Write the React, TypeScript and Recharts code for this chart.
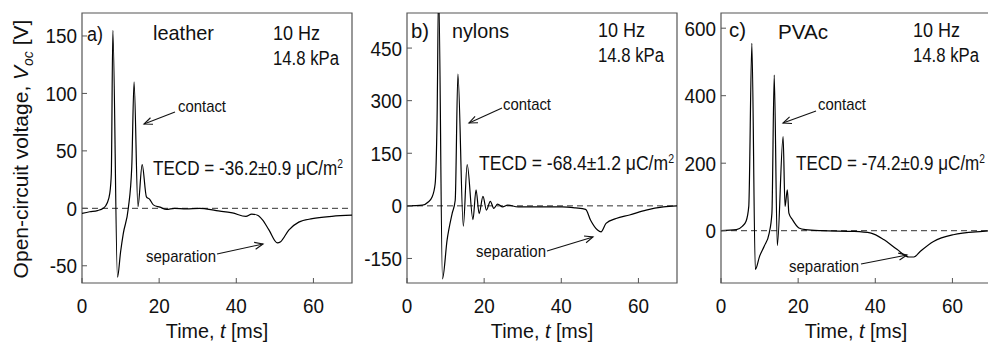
import React from "react";
import { LineChart, Line, XAxis, YAxis, ReferenceLine, ReferenceArea } from "recharts";

// time axis (ms), shared by the three panels
const timeTicks = [0, 20, 40, 60];

// a) leather
const leatherT = [0, 2, 4, 5.5, 6.5, 7.2, 7.6, 8.0, 9.2, 10.0, 10.7, 12.0, 12.9, 13.5, 14.5, 15.6, 16.7, 17.5, 18.5, 20.2, 21.9, 24, 27, 30.5, 34.8, 39, 42.5, 44, 45.5, 46.8, 48.5, 50.6, 51.5, 53.6, 56.2, 59.7, 64.8, 70];
const leatherV = [-4.4, -3, -2, 0, 4.4, 13, 30, 155, -60, -38, -22, 0, 36, 110, 1.5, 38, 10, 8, 3, 1, -1, 0, -0.5, 0, -2, -4, -7, -5, -6, -10, -19, -30, -29, -19, -12, -9, -7, -6];
const leatherTicks = [-50, 0, 50, 100, 150];

// b) nylons
const nylonT = [0, 4, 5.5, 6.5, 7.3, 7.8, 8.2, 9.2, 10.4, 11.7, 12.5, 13.2, 14.6, 15.6, 17.1, 17.9, 18.7, 19.7, 20.6, 21.6, 22.5, 23.5, 24.8, 26.1, 28.8, 34, 40.2, 43.7, 46.3, 47.6, 49.4, 50.3, 51.6, 54.2, 57.7, 62, 66.5, 70];
const nylonV = [0, 2, 11, 25, 63, 250, 620, -208, -97, -22, 16, 376, -58, 118, -39, 46, -22, 27, -12, 13, -7, 5, -3, 2, -3, -3, -3, -6, -10, -41, -69, -74, -50, -36, -26, -12, -3, 0];
const nylonTicks = [-150, 0, 150, 300, 450];

// c) PVAc
const pvacT = [0, 4, 5.5, 6.5, 7.2, 8.0, 8.9, 10, 11.2, 12.5, 13.2, 13.8, 14.6, 16.1, 16.6, 17.2, 17.6, 18.5, 20.2, 21.9, 26, 34.6, 38.9, 42.3, 45.7, 48.7, 50, 51.7, 55.1, 60.2, 67.8, 70];
const pvacV = [0, 3, 13, 28, 72, 555, -115, -76, -46, -7, 52, 461, -44, 279, 72, 121, 52, 33, 8, 3, 0, -2, -7, -27, -56, -78, -78, -61, -32, -12, -2, 0];
const pvacTicks = [0, 200, 400, 600];

const FONT = "'Liberation Sans', Arial, sans-serif";
const AXW = 60;
const PLOT_W = 270;
const TOP = 13;
const BOTTOM = 283;
const FRAME = "#555";

const panels = [
  { id: "a", left: 82, t: leatherT, v: leatherV, domain: [-65, 170], ticks: leatherTicks },
  { id: "b", left: 407, t: nylonT, v: nylonV, domain: [-220, 550], ticks: nylonTicks },
  { id: "c", left: 721, t: pvacT, v: pvacV, domain: [-155, 645], ticks: pvacTicks },
];

function XTick(props: any) {
  const { x, payload } = props;
  return (
    <g>
      <line x1={x} x2={x} y1={BOTTOM} y2={BOTTOM - 5} stroke={FRAME} />
      <text
        transform={`translate(${x},312.5) scale(0.9,1)`}
        textAnchor="middle"
        fontSize={21}
        fontFamily={FONT}
        fill="#111"
      >
        {payload.value}
      </text>
    </g>
  );
}

function YTick(props: any) {
  const { y, payload } = props;
  return (
    <g>
      <line x1={AXW} x2={AXW + 5} y1={y} y2={y} stroke={FRAME} />
      <text
        transform={`translate(${AXW - 5},${y + 7.5}) scale(0.9,1)`}
        textAnchor="end"
        fontSize={21}
        fontFamily={FONT}
        fill="#111"
      >
        {payload.value}
      </text>
    </g>
  );
}

function Panel({ left, t, v, domain, ticks }: any) {
  const data = t.map((x: number, i: number) => ({ t: x, v: v[i] }));
  return (
    <div style={{ position: "absolute", left: left - AXW, top: 0 }}>
      <LineChart
        width={AXW + PLOT_W + 2}
        height={344}
        data={data}
        margin={{ top: TOP, right: 2, bottom: 31, left: 0 }}
      >
        <XAxis
          dataKey="t"
          type="number"
          domain={[0, 70]}
          ticks={timeTicks}
          height={30}
          axisLine={false}
          tickLine={false}
          tick={(p: any) => <XTick {...p} />}
          allowDataOverflow
        />
        <YAxis
          type="number"
          domain={domain}
          ticks={ticks}
          width={AXW}
          axisLine={false}
          tickLine={false}
          tick={(p: any) => <YTick {...p} />}
          allowDataOverflow
        />
        <ReferenceLine y={0} stroke="#333" strokeDasharray="6 4" />
        <Line
          dataKey="v"
          type="monotone"
          stroke="#000"
          strokeWidth={1.2}
          dot={false}
          isAnimationActive={false}
        />
        <ReferenceArea
          x1={0}
          x2={70}
          y1={domain[0]}
          y2={domain[1]}
          fill="none"
          stroke={FRAME}
          strokeWidth={1.2}
        />
      </LineChart>
    </div>
  );
}

function Arrow({ x1, y1, x2, y2 }: any) {
  const a = Math.atan2(y2 - y1, x2 - x1);
  const L = 9;
  const w = 0.4;
  const p1 = [x2 - L * Math.cos(a - w), y2 - L * Math.sin(a - w)];
  const p2 = [x2 - L * Math.cos(a + w), y2 - L * Math.sin(a + w)];
  return (
    <g stroke="#111" strokeWidth={1.1} fill="none">
      <line x1={x1} y1={y1} x2={x2} y2={y2} />
      <polyline points={`${p1[0]},${p1[1]} ${x2},${y2} ${p2[0]},${p2[1]}`} />
    </g>
  );
}

const notes = [
  { x: 87, y: 41, s: 20, w: 16, txt: "a)" },
  { x: 153, y: 40, s: 21, w: 61, txt: "leather" },
  { x: 273, y: 40, s: 20, w: 47, txt: "10 Hz" },
  { x: 273, y: 65, s: 20, w: 66, txt: "14.8 kPa" },
  { x: 178, y: 112, s: 17, w: 48, txt: "contact" },
  { x: 146, y: 262, s: 17, w: 70, txt: "separation" },
  { x: 411, y: 38, s: 20, w: 18, txt: "b)" },
  { x: 452, y: 38, s: 21, w: 57, txt: "nylons" },
  { x: 598, y: 37, s: 20, w: 47, txt: "10 Hz" },
  { x: 598, y: 62, s: 20, w: 66, txt: "14.8 kPa" },
  { x: 503, y: 110, s: 17, w: 48, txt: "contact" },
  { x: 476, y: 257, s: 17, w: 70, txt: "separation" },
  { x: 729, y: 37, s: 20, w: 17, txt: "c)" },
  { x: 778, y: 39, s: 21, w: 50, txt: "PVAc" },
  { x: 913, y: 37, s: 20, w: 47, txt: "10 Hz" },
  { x: 913, y: 62, s: 20, w: 66, txt: "14.8 kPa" },
  { x: 818, y: 110, s: 17, w: 48, txt: "contact" },
  { x: 789, y: 272, s: 17, w: 70, txt: "separation" },
];

const tecd = [
  { x: 153, y: 175, w: 190, val: "-36.2±0.9" },
  { x: 479, y: 170, w: 195, val: "-68.4±1.2" },
  { x: 796, y: 170, w: 189, val: "-74.2±0.9" },
];

const arrows = [
  { x1: 175, y1: 112, x2: 144, y2: 124 },
  { x1: 217, y1: 254, x2: 263, y2: 244 },
  { x1: 502, y1: 108, x2: 469, y2: 123 },
  { x1: 547, y1: 251, x2: 593, y2: 237 },
  { x1: 816, y1: 111, x2: 783, y2: 123 },
  { x1: 861, y1: 264, x2: 907, y2: 255 },
];

export default function App() {
  return (
    <div
      style={{
        position: "absolute",
        left: 0,
        top: 0,
        width: 988,
        height: 344,
        overflow: "hidden",
        background: "#fff",
      }}
    >
      {panels.map((p) => (
        <Panel key={p.id} {...p} />
      ))}
      <svg
        width={988}
        height={344}
        style={{ position: "absolute", left: 0, top: 0, pointerEvents: "none" }}
        fontFamily={FONT}
        fill="#111"
      >
        <text transform="translate(28,149) rotate(-90)" textAnchor="middle" fontSize={21}>
          Open-circuit voltage, <tspan fontStyle="italic">V</tspan>
          <tspan fontStyle="italic" fontSize={14} dy={5}>oc</tspan>
          <tspan dy={-5}> [V]</tspan>
        </text>
        {panels.map((p) => (
          <text
            key={p.id}
            transform={`translate(${p.left + PLOT_W / 2},338) scale(0.94,1)`}
            textAnchor="middle"
            fontSize={21}
          >
            Time, <tspan fontStyle="italic">t</tspan> [ms]
          </text>
        ))}
        {notes.map((n, i) => (
          <text key={i} x={n.x} y={n.y} fontSize={n.s} textLength={n.w} lengthAdjust="spacingAndGlyphs">
            {n.txt}
          </text>
        ))}
        {tecd.map((n, i) => (
          <text key={i} x={n.x} y={n.y} fontSize={20} textLength={n.w} lengthAdjust="spacingAndGlyphs">
            TECD = {n.val} μC/m<tspan fontSize={12} dy={-7}>2</tspan>
          </text>
        ))}
        {arrows.map((a, i) => (
          <Arrow key={i} {...a} />
        ))}
      </svg>
    </div>
  );
}
